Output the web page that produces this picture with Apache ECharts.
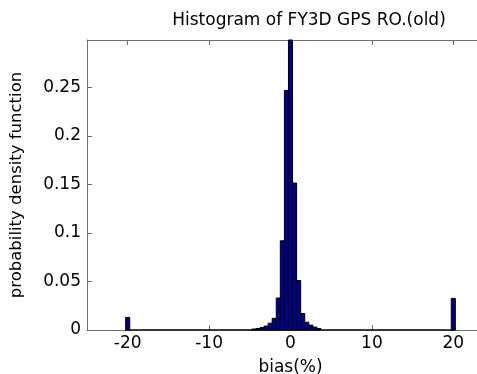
<!DOCTYPE html>
<html>
<head>
<meta charset="utf-8">
<script src="https://cdn.jsdelivr.net/npm/echarts@6/dist/echarts.min.js"></script>
<style>html,body{margin:0;padding:0;background:#fff}#c{width:477px;height:374px}</style>
</head>
<body>
<div id="c"></div>
<script>
var binWidth = 0.5;
var binCenters = [-20, -4.5, -4, -3.5, -3, -2.5, -2, -1.5, -1, -0.5, 0, 0.5, 1, 1.5, 2, 2.5, 3, 3.5, 20];
var density   = [0.013, 0.001, 0.0015, 0.0025, 0.004, 0.007, 0.012, 0.033, 0.092, 0.247, 0.299, 0.1515, 0.051, 0.017, 0.008, 0.005, 0.003, 0.0015, 0.0326];
var xTicks = [-20, -10, 0, 10, 20];
var yTicks = [0, 0.05, 0.1, 0.15, 0.2, 0.25];
var binRange = [-20, 20];

var FONT = 'DejaVu Sans, Liberation Sans, sans-serif';
var axisColor = '#6e6e6e';
var X_MIN = -25, X_MAX = 25;

var chart = echarts.init(document.getElementById('c'), null, {renderer: 'canvas'});
var barData = binCenters.map(function (c, i) { return [c, density[i]]; });

chart.setOption({
  animation: false,
  title: {
    text: 'Histogram of FY3D GPS RO.(old)',
    left: 304, top: 7, textAlign: 'center',
    textStyle: {fontFamily: FONT, fontSize: 17, fontWeight: 'normal', color: '#000'}
  },
  grid: {left: 87, top: 40, bottom: 44, right: -17, outerBoundsMode: 'none', containLabel: false},
  xAxis: [{
    type: 'value', min: X_MIN, max: X_MAX,
    name: 'bias(%)', nameLocation: 'middle', nameGap: 29,
    nameTextStyle: {fontFamily: FONT, fontSize: 17, color: '#000'},
    axisLine: {show: true, onZero: false, lineStyle: {color: axisColor, width: 1}},
    axisTick: {show: true, inside: true, length: 5, lineStyle: {color: axisColor}, customValues: xTicks},
    axisLabel: {fontFamily: FONT, fontSize: 17, color: '#000', margin: 5, customValues: xTicks},
    splitLine: {show: false}
  }, {
    type: 'value', min: X_MIN, max: X_MAX, position: 'top',
    axisLine: {show: true, onZero: false, lineStyle: {color: axisColor, width: 1}},
    axisTick: {show: true, inside: true, length: 5, lineStyle: {color: axisColor}, customValues: xTicks},
    axisLabel: {show: false},
    splitLine: {show: false}
  }],
  yAxis: [{
    type: 'value', min: 0, max: 0.299,
    name: 'probability density function', nameLocation: 'middle', nameGap: 62,
    nameTextStyle: {fontFamily: FONT, fontSize: 16.5, color: '#000'},
    axisLine: {show: true, onZero: false, lineStyle: {color: axisColor, width: 1}},
    axisTick: {show: true, inside: true, length: 5, lineStyle: {color: axisColor}, customValues: yTicks},
    axisLabel: {fontFamily: FONT, fontSize: 17, color: '#000', margin: 6, customValues: yTicks,
      formatter: function (v) { return String(+v.toFixed(2)); }},
    splitLine: {show: false}
  }],
  series: [{
    type: 'line',
    data: [[binRange[0] - binWidth / 2, 0], [binRange[1] + binWidth / 2, 0]],
    symbol: 'none', lineStyle: {color: '#000', width: 1.5}, z: 3
  }, {
    type: 'custom',
    data: barData,
    z: 4,
    renderItem: function (params, api) {
      var c = api.value(0), v = api.value(1);
      var p0 = api.coord([c - binWidth / 2, v]);
      var p1 = api.coord([c + binWidth / 2, 0]);
      return {
        type: 'rect',
        shape: {x: p0[0], y: p0[1], width: p1[0] - p0[0], height: p1[1] - p0[1]},
        style: {fill: '#00008a', stroke: '#000', lineWidth: 1}
      };
    }
  }]
});
</script>
</body>
</html>
